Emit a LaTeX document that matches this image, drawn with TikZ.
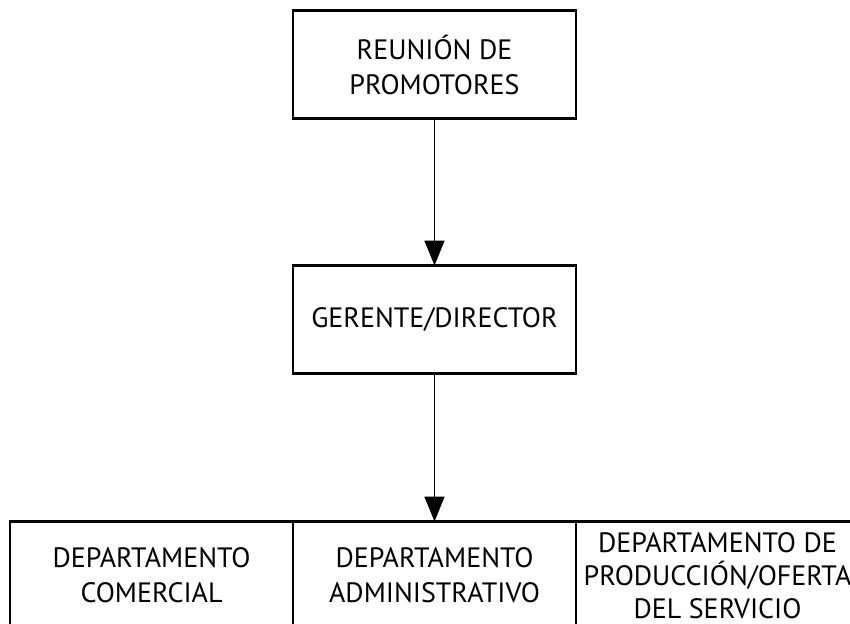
\documentclass[tikz,border=0pt]{standalone}
\usepackage{fontspec}
\setmainfont{PT Sans}
\usetikzlibrary{arrows.meta, positioning}

\begin{document}
\begin{tikzpicture}[>={Triangle[width=20pt,length=25pt]}, x=1pt, y=-1pt,
		caja/.style={draw, line width=2.4pt, outer sep=0pt, inner sep=0pt,
			minimum width=283pt, minimum height=108pt, align=center,
			font=\fontsize{28}{35}\selectfont},
		flecha/.style={->, line width=1.8pt}]
	% Page size of the reference
	\useasboundingbox (0,0) rectangle (850,623);
	\clip (0,0) rectangle (850,623);

	% Top and middle boxes
	\node[caja] (reunion) at (434.5,64.5) {REUNIÓN DE\\PROMOTORES};
	\node[caja, below=147pt of reunion] (gerente) {GERENTE/DIRECTOR};

	% Row of departments
	\node[caja, below=148pt of gerente] (admin) {DEPARTAMENTO\\ADMINISTRATIVO};
	\node[caja, left=0pt of admin] (comercial) {DEPARTAMENTO\\COMERCIAL};
	\node[caja, right=0pt of admin, font=\fontsize{28}{33}\selectfont] (produccion) {DEPARTAMENTO DE\\PRODUCCIÓN/OFERTA\\DEL SERVICIO};

	% Arrows
	\draw[flecha] (reunion) -- (gerente);
	\draw[flecha] (gerente) -- (admin);
\end{tikzpicture}
\end{document}
